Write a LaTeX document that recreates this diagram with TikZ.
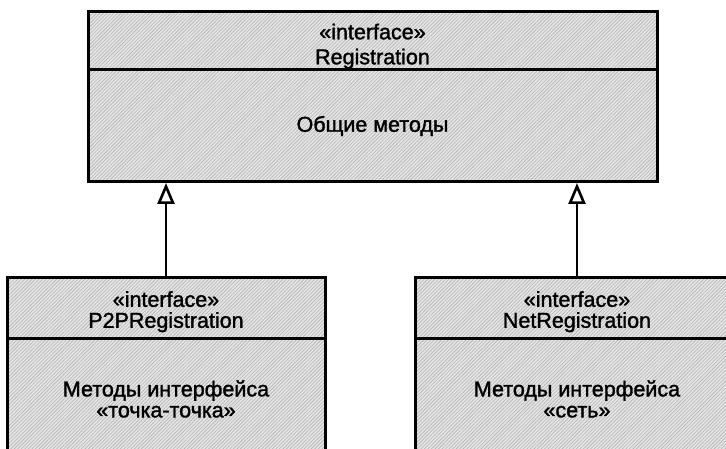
\documentclass[tikz,border=0pt]{standalone}
\usepackage{fontspec}
\setmainfont{Liberation Sans}
\newfontfamily\labelfont[FakeBold=1.5]{Liberation Sans}
\usetikzlibrary{arrows.meta,patterns.meta}
\begin{document}
\begin{tikzpicture}[x=1pt,y=-1pt,
  compartment/.style={draw=black, line width=3pt,
    preaction={fill=gray!20},
    pattern={Lines[angle=45,distance=2.5pt,line width=0.6pt]}, pattern color=gray!60,
    inner sep=0pt, outer sep=0pt, anchor=north west, align=center,
    font=\labelfont\fontsize{21.5}{21}\selectfont},
  realizes/.style={line width=2.6pt, shorten >=1pt,
    -{Triangle[open,length=21pt,width=17pt,line width=2.6pt]}}
]
\useasboundingbox (0,0) rectangle (726,449);

% interface Registration
\node[compartment, minimum width=569pt, minimum height=58pt, text height=51pt,
      font=\labelfont\fontsize{21.5}{25}\selectfont] (regHead) at (88,12)
  {«interface»\\Registration};
\node[compartment, minimum width=569pt, minimum height=112pt] (regBody) at (88,70)
  {Общие методы};

% interface P2PRegistration
\node[compartment, minimum width=318pt, minimum height=60pt, text height=44pt] (p2pHead) at (7,278)
  {«interface»\\P2PRegistration};
\node[compartment, minimum width=318pt, minimum height=122pt] (p2pBody) at (7,338)
  {Методы интерфейса\\«точка-точка»};

% interface NetRegistration
\node[compartment, minimum width=324pt, minimum height=60pt, text height=44pt] (netHead) at (415,278)
  {«interface»\\NetRegistration};
\node[compartment, minimum width=324pt, minimum height=122pt] (netBody) at (415,338)
  {Методы интерфейса\\«сеть»};

% realization arrows
\draw[realizes] (p2pHead.north) -- (p2pHead.north |- regBody.south);
\draw[realizes] (netHead.north) -- (netHead.north |- regBody.south);
\end{tikzpicture}
\end{document}
